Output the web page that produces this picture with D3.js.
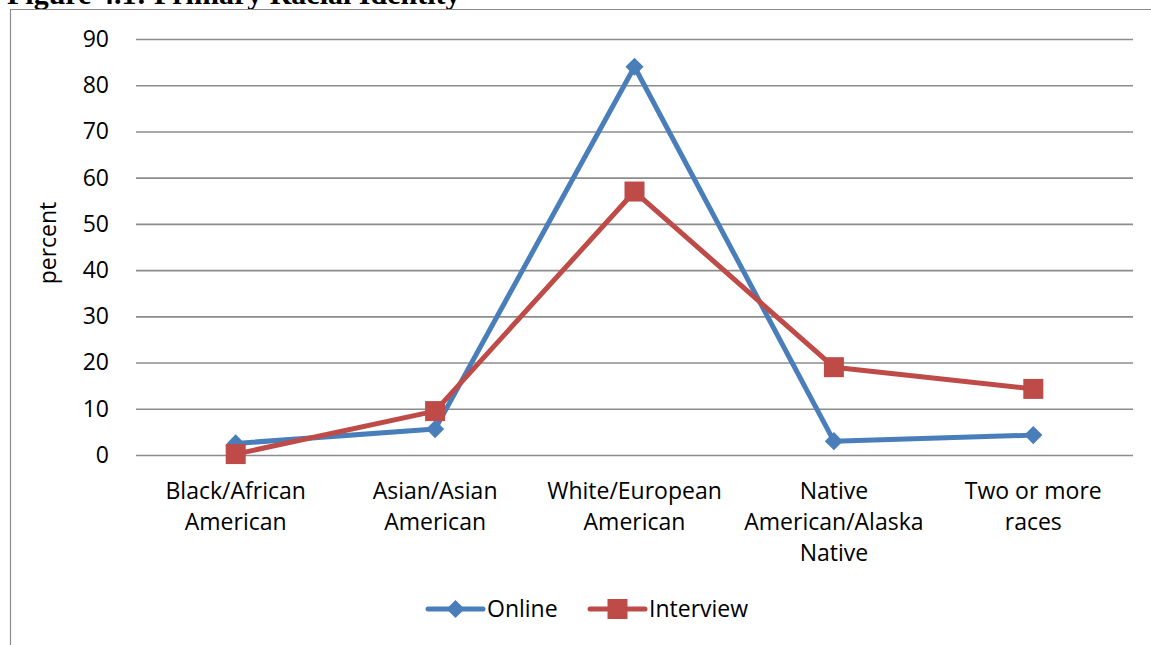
<!DOCTYPE html>
<html>
<head>
<meta charset="utf-8">
<script src="https://cdn.jsdelivr.net/npm/d3@7"></script>
<style>
  body { margin: 0; background: #fff; }
  svg { display: block; }
</style>
</head>
<body>
<div id="chart"></div>
<script>
(function() {
    let w = 1151;
    let h = 645;

    let categories = [
        ["Black/African", "American"],
        ["Asian/Asian", "American"],
        ["White/European", "American"],
        ["Native", "American/Alaska", "Native"],
        ["Two or more", "races"]
    ];
    let online = [2.5, 5.6, 84, 3, 4.3];
    let interview = [0.2, 9.5, 57, 19, 14.3];
    let yTicks = [0, 10, 20, 30, 40, 50, 60, 70, 80, 90];
    let seriesNames = ["Online", "Interview"];

    let blue = "#4a7ebb";
    let red = "#be4b48";
    let font = "'Open Sans', Lato, sans-serif";
    let fs = 23;

    let svg = d3.select("#chart")
        .append("svg")
        .attr("width", w)
        .attr("height", h);

    // title, cut off at the top like the source scan
    svg.append("text")
        .attr("x", 7)
        .attr("y", 4)
        .attr("font-family", "'Liberation Serif', 'Times New Roman', serif")
        .attr("font-weight", "bold")
        .attr("font-size", 30)
        .text("Figure 4.1: Primary Racial Identity");

    // chart frame (only left and top edges visible)
    svg.append("path")
        .attr("d", "M10.5," + h + " V9.5 H" + w)
        .attr("fill", "none")
        .attr("stroke", "#8c8c8c")
        .attr("stroke-width", 1.2);

    let x = d3.scaleBand()
        .domain(d3.range(categories.length))
        .range([136, 1133]);

    let y = d3.scaleLinear()
        .domain([0, 90])
        .range([455, 39]);

    // gridlines + tick labels via axis
    let yAxis = svg.append("g")
        .attr("transform", "translate(136,0)")
        .call(d3.axisLeft(y)
            .tickValues(yTicks)
            .tickSize(-(1133 - 136))
            .tickPadding(27));

    yAxis.select(".domain").remove();
    yAxis.selectAll(".tick line")
        .attr("stroke", "#8c8c8c")
        .attr("stroke-width", 1.6);
    yAxis.selectAll(".tick text")
        .attr("font-family", font)
        .attr("font-size", fs)
        .attr("fill", "#000");

    // category labels
    let catG = svg.append("g");
    categories.forEach((lines, i) => {
        let t = catG.append("text")
            .attr("text-anchor", "middle")
            .attr("font-family", font)
            .attr("font-size", fs)
            .attr("fill", "#000");
        lines.forEach((ln, j) => {
            t.append("tspan")
                .attr("x", x(i) + x.bandwidth() / 2)
                .attr("y", 499 + j * 31)
                .text(ln);
        });
    });

    // y axis title
    svg.append("text")
        .attr("transform", "translate(56,243) rotate(-90)")
        .attr("text-anchor", "middle")
        .attr("font-family", font)
        .attr("font-size", fs)
        .attr("fill", "#000")
        .text("percent");

    let cx = (d, i) => x(i) + x.bandwidth() / 2;
    let line = d3.line()
        .x((d, i) => cx(d, i))
        .y((d) => y(d));

    // online series
    svg.append("path")
        .datum(online)
        .attr("d", line)
        .attr("fill", "none")
        .attr("stroke", blue)
        .attr("stroke-width", 5)
        .attr("stroke-linejoin", "round");

    // interview series
    svg.append("path")
        .datum(interview)
        .attr("d", line)
        .attr("fill", "none")
        .attr("stroke", red)
        .attr("stroke-width", 5)
        .attr("stroke-linejoin", "round");

    let diamond = d3.symbol().type(d3.symbolDiamond2).size(210);
    let square = d3.symbol().type(d3.symbolSquare).size(400);

    svg.selectAll(".onlinePt")
        .data(online)
        .enter()
        .append("path")
        .attr("class", "onlinePt")
        .attr("d", diamond)
        .attr("transform", (d, i) => "translate(" + cx(d, i) + "," + y(d) + ")")
        .attr("fill", blue);

    svg.selectAll(".interviewPt")
        .data(interview)
        .enter()
        .append("path")
        .attr("class", "interviewPt")
        .attr("d", square)
        .attr("transform", (d, i) => "translate(" + cx(d, i) + "," + y(d) + ")")
        .attr("fill", red);

    // legend
    let legend = [
        { name: seriesNames[0], color: blue, sym: diamond, x0: 428 },
        { name: seriesNames[1], color: red, sym: square, x0: 590 }
    ];
    legend.forEach((l) => {
        let g = svg.append("g").attr("transform", "translate(" + l.x0 + ",609)");
        g.append("line")
            .attr("x1", 0).attr("x2", 55)
            .attr("stroke", l.color)
            .attr("stroke-width", 5)
            .attr("stroke-linecap", "round");
        g.append("path")
            .attr("d", l.sym)
            .attr("transform", "translate(27.5,0)")
            .attr("fill", l.color);
        g.append("text")
            .attr("x", 59)
            .attr("y", 8)
            .attr("font-family", font)
            .attr("font-size", fs)
            .attr("fill", "#000")
            .text(l.name);
    });
})();
</script>
</body>
</html>
